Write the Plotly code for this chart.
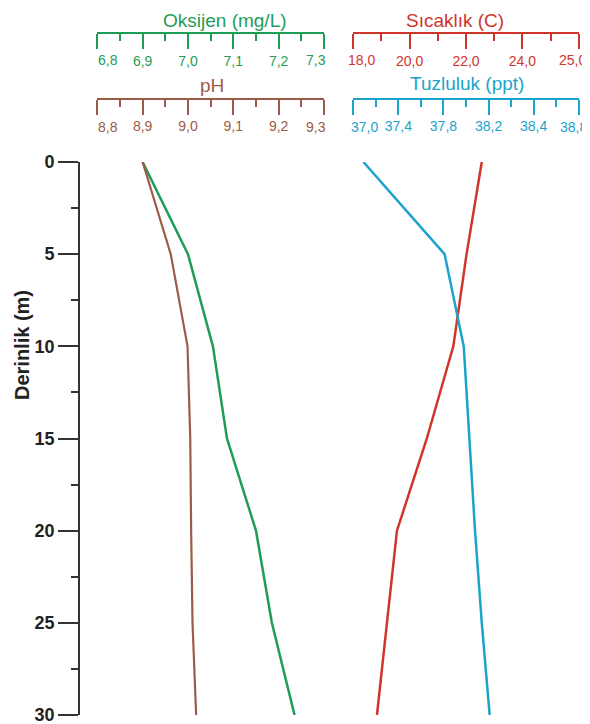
import plotly.graph_objects as go

# ---- data ----
depth = [0, 5, 10, 15, 20, 25, 30]
oksijen = [6.90, 7.00, 7.055, 7.086, 7.15, 7.185, 7.235]
ph = [8.90, 8.962, 8.999, 9.005, 9.007, 9.01, 9.018]
sicaklik = [22.56, 22.02, 21.55, 20.61, 19.55, 19.19, 18.84]
tuzluluk = [37.09, 37.81, 37.98, 38.03, 38.08, 38.14, 38.21]

# ---- tick labels ----
oks_tickvals = [6.8, 6.9, 7.0, 7.1, 7.2, 7.3]
oks_ticktext = ["6,8", "6,9", "7,0", "7,1", "7,2", "7,3"]
ph_tickvals = [8.8, 8.9, 9.0, 9.1, 9.2, 9.3]
ph_ticktext = ["8,8", "8,9", "9,0", "9,1", "9,2", "9,3"]
sic_tickvals = [18, 20, 22, 24, 26]
sic_ticktext = ["18,0", "20,0", "22,0", "24,0", "25,0"]
tuz_tickvals = [37.0, 37.4, 37.8, 38.2, 38.6, 39.0]
tuz_ticktext = ["37,0", "37,4", "37,8", "38,2", "38,4", "38,8"]
depth_ticks = [0, 5, 10, 15, 20, 25, 30]

GREEN = "#1f9d57"
BROWN = "#9c5b47"
RED = "#d0352b"
BLUE = "#1ca3cb"
FONT = "Liberation Sans, Arial, sans-serif"

# page body has an 8px default margin; size the figure to fill the rest
OFF = 8
W, H = 590 - OFF, 724 - OFF


def px_x(p):
    return (p - OFF) / W


def px_y(p):
    return 1 - (p - OFF) / H


left_dom = [px_x(97.3), px_x(324)]
right_dom = [px_x(353.3), px_x(578.7)]

fig = go.Figure()
fig.add_trace(go.Scatter(x=oksijen, y=depth, xaxis="x", yaxis="y", mode="lines",
                         line=dict(color=GREEN, width=2.5), name="Oksijen"))
fig.add_trace(go.Scatter(x=ph, y=depth, xaxis="x3", yaxis="y", mode="lines",
                         line=dict(color=BROWN, width=2.2), name="pH"))
fig.add_trace(go.Scatter(x=sicaklik, y=depth, xaxis="x2", yaxis="y", mode="lines",
                         line=dict(color=RED, width=2.5), name="Sıcaklık"))
fig.add_trace(go.Scatter(x=tuzluluk, y=depth, xaxis="x4", yaxis="y", mode="lines",
                         line=dict(color=BLUE, width=2.5), name="Tuzluluk"))


def inner(labels):
    # end labels are drawn as annotations (they sit inward of their ticks)
    return [""] + list(labels[1:-1]) + [""]


def top_axis(domain, ypos, rng, tv, tt, color, minor_tick0, minor_dtick):
    return dict(
        domain=domain, anchor="free", position=ypos, side="bottom",
        range=rng, tickmode="array", tickvals=tv, ticktext=inner(tt),
        ticks="outside", ticklen=15, tickwidth=2, tickcolor=color,
        showline=True, linecolor=color, linewidth=2,
        showgrid=False, zeroline=False, fixedrange=True,
        tickfont=dict(family=FONT, size=14, color=color),
        minor=dict(tickmode="linear", tick0=minor_tick0, dtick=minor_dtick,
                   ticks="outside", ticklen=7, tickwidth=2, tickcolor=color,
                   showgrid=False),
    )


def end_labels(xref, tv, tt, color, ypx, shift_first, shift_last):
    common = dict(xref=xref, yref="paper", y=px_y(ypx), yanchor="middle",
                  showarrow=False, font=dict(family=FONT, size=14, color=color))
    return [
        dict(text=tt[0], x=tv[0], xanchor="left", xshift=shift_first, **common),
        dict(text=tt[-1], x=tv[-1], xanchor="right", xshift=shift_last, **common),
    ]


annotations = [
    dict(text="Oksijen (mg/L)", x=px_x(225), y=1.0, xref="paper", yref="paper",
         xanchor="center", yanchor="top", showarrow=False,
         font=dict(family=FONT, size=19, color=GREEN)),
    dict(text="Sıcaklık (C)", x=px_x(454.5), y=1.0, xref="paper", yref="paper",
         xanchor="center", yanchor="top", showarrow=False,
         font=dict(family=FONT, size=19, color=RED)),
    dict(text="pH", x=px_x(211.5), y=px_y(86), xref="paper", yref="paper",
         xanchor="center", yanchor="middle", showarrow=False,
         font=dict(family=FONT, size=19, color=BROWN)),
    dict(text="Tuzluluk (ppt)", x=px_x(467), y=px_y(83), xref="paper", yref="paper",
         xanchor="center", yanchor="middle", showarrow=False,
         font=dict(family=FONT, size=19, color=BLUE)),
    dict(text="<b>Derinlik (m)</b>", x=px_x(22), y=px_y(345), xref="paper", yref="paper",
         xanchor="center", yanchor="middle", showarrow=False, textangle=-90,
         font=dict(family=FONT, size=20, color="#222222")),
]
annotations += end_labels("x", oks_tickvals, oks_ticktext, GREEN, 60.5, -1, 4)
annotations += end_labels("x3", ph_tickvals, ph_ticktext, BROWN, 126.5, -1, 4)
annotations += end_labels("x2", sic_tickvals, sic_ticktext, RED, 60.5, -7, 9)
annotations += end_labels("x4", tuz_tickvals, tuz_ticktext, BLUE, 126.5, -4, 10)

fig.update_layout(
    width=W, height=H,
    margin=dict(l=0, r=0, t=0, b=0, autoexpand=False),
    paper_bgcolor="white", plot_bgcolor="rgba(0,0,0,0)",
    showlegend=False,
    font=dict(family=FONT),
    xaxis=top_axis(left_dom, px_y(33), [6.8, 7.3], oks_tickvals, oks_ticktext, GREEN, 6.8, 0.05),
    xaxis3=top_axis(left_dom, px_y(98.5), [8.8, 9.3], ph_tickvals, ph_ticktext, BROWN, 8.8, 0.05),
    xaxis2=top_axis(right_dom, px_y(33), [18, 26], sic_tickvals, sic_ticktext, RED, 18, 1),
    xaxis4=top_axis(right_dom, px_y(98.5), [37.0, 39.0], tuz_tickvals, tuz_ticktext, BLUE, 37.0, 0.2),
    yaxis=dict(
        domain=[px_y(715), px_y(162)], anchor="free", position=px_x(79),
        range=[30, 0], tickmode="array", tickvals=depth_ticks,
        ticks="outside", ticklen=20, tickwidth=1.6, tickcolor="#333333",
        showline=True, linecolor="#333333", linewidth=1.8,
        showgrid=False, zeroline=False, fixedrange=True,
        ticklabeloverflow="allow",
        tickfont=dict(family=FONT, size=18, color="#222222", weight="bold"),
        minor=dict(tickmode="linear", tick0=0, dtick=2.5, ticks="outside",
                   ticklen=7, tickwidth=1.6, tickcolor="#333333", showgrid=False),
    ),
    annotations=annotations,
)

fig.write_html("out.html")
